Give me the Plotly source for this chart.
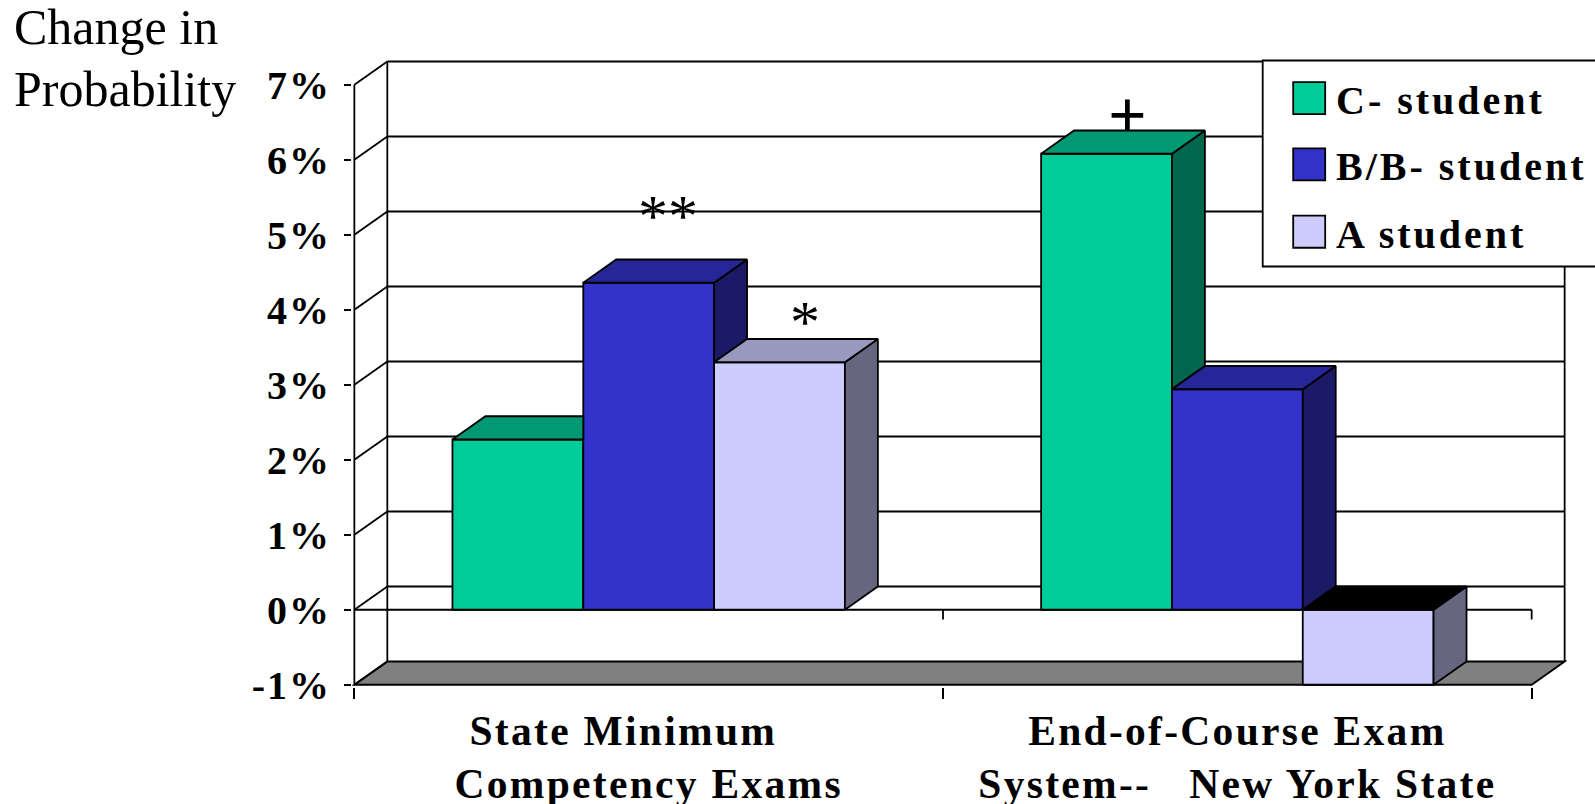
import plotly.graph_objects as go

# ---- data ----
category_labels = [
    "State Minimum    <br>Competency Exams",
    "End-of-Course Exam<br>System--   New York State",
]
category_positions = [0.5, 1.5]
c_student = [2.27, 6.08]
b_student = [4.36, 2.94]
a_student = [3.30, -1.0]
series_names = ["C- student", "B/B- student", "A student"]
y_ticks = [-1, 0, 1, 2, 3, 4, 5, 6, 7]
y_tick_labels = ["-1%", "0%", "1%", "2%", "3%", "4%", "5%", "6%", "7%"]
x_boundaries = [0, 1, 2]

# ---- style ----
FRONT = ["#00CC99", "#3333CC", "#CCCCFF"]
TOP = ["#009973", "#262699", "#9999BF"]
SIDE = ["#00664D", "#1A1A66", "#666680"]
SERIF = "Liberation Serif"
W, H = 1595, 804
LW = 1.8
DX, DY = 0.056, 0.31           # depth of the 3-D box in axis units
BAR_W = 2 / 9                  # bargap 1/3 shared by three bars
XR = [-0.004, 2.06]
YR = [-1.03, 7.33]
SX, SY = 588.7, 74.9           # pixels per axis unit
X0, Y0 = 354.6, 609.5          # pixel position of x=0, y=0
L = X0 + XR[0] * SX
R = W - (X0 + XR[1] * SX)
B = H - (Y0 - YR[0] * SY)
T = Y0 - YR[1] * SY


def spaced(text, px=3):
    return f'<span style="letter-spacing:{px}px">{text}</span>'


def px(x):
    return (x - L) / (W - L - R)


def py(y):
    return 1 - (y - T) / (H - T - B)


fig = go.Figure()
series = [c_student, b_student, a_student]

for name, vals, col in zip(series_names, series, FRONT):
    fig.add_trace(go.Bar(
        x=category_positions, y=vals, name=name, showlegend=False,
        marker=dict(color=col, line=dict(color="black", width=LW)),
    ))


def face(xs, ys, color):
    fig.add_trace(go.Scatter(
        x=xs, y=ys, mode="lines", fill="toself", fillcolor=color,
        line=dict(color="black", width=LW), hoverinfo="skip", showlegend=False,
    ))


for g, cx in enumerate(category_positions):
    for s in range(3):
        v = series[s][g]
        left = cx + (s - 1.5) * BAR_W
        right = left + BAR_W
        hi, lo = max(v, 0), min(v, 0)
        next_hi = max(series[s + 1][g], 0) if s < 2 else None
        top_col = "#000000" if v < 0 else TOP[s]
        if next_hi is not None and next_hi >= hi:
            # the next, taller bar hides the side and part of the top
            face([left, right, right, left + DX, left],
                 [hi, hi, hi + DY, hi + DY, hi], top_col)
        else:
            low = lo if next_hi is None else max(lo, next_hi)
            face([right, right, right + DX, right + DX, right],
                 [low, hi, hi + DY, low + DY, low], SIDE[s])
            face([left, right, right + DX, left + DX, left],
                 [hi, hi, hi + DY, hi + DY, hi], top_col)

# ---- 3-D walls, all computed from the axis values ----
line = dict(color="black", width=LW)
x_end = x_boundaries[-1]
shapes = [dict(type="path", layer="below", xref="x", yref="y",
               path=f"M0,-1 L{x_end},-1 L{x_end + DX},{-1 + DY} L{DX},{-1 + DY} Z",
               fillcolor="#808080", line=line)]
for k in y_ticks:
    shapes.append(dict(type="line", layer="below", xref="x", yref="y",
                       x0=0, y0=k, x1=DX, y1=k + DY, line=line))
    if k > -1:
        shapes.append(dict(type="line", layer="below", xref="x", yref="y",
                           x0=DX, y0=k + DY, x1=x_end + DX, y1=k + DY, line=line))
for xa, ya, xb, yb in [
    (0, -1, 0, 7),
    (DX, -1 + DY, DX, 7 + DY),
    (x_end + DX, -1 + DY, x_end + DX, 7 + DY),
    (0, 0, x_end, 0),
    (1, 0, 1, -0.13),
    (2, 0, 2, -0.13),
]:
    shapes.append(dict(type="line", layer="below", xref="x", yref="y",
                       x0=xa, y0=ya, x1=xb, y1=yb, line=line))

# ---- legend box, open at the right edge as in the source ----
shapes.append(dict(type="rect", layer="above", xref="paper", yref="paper",
                   x0=px(1263), x1=px(1640), y0=py(266.7), y1=py(61),
                   fillcolor="white", line=dict(color="black", width=LW)))
ann = []
for name, col, y0 in zip(series_names, FRONT, [82.6, 148.7, 216]):
    shapes.append(dict(type="rect", layer="above", xref="paper", yref="paper",
                       x0=px(1293.5), x1=px(1325.5), y0=py(y0 + 32), y1=py(y0),
                       fillcolor=col, line=dict(color="black", width=LW)))
    ann.append(dict(text=spaced(f"<b>{name}</b>"), xref="paper", yref="paper",
                    x=px(1334), y=py(y0 + 18.5), xanchor="left", yanchor="middle",
                    showarrow=False, font=dict(family=SERIF, size=40, color="black")))

# ---- free text ----
for text, y in [("Change in", 28), ("Probability", 89)]:
    ann.append(dict(text=text, xref="paper", yref="paper", x=px(12), y=py(y),
                    xanchor="left", yanchor="middle", showarrow=False,
                    font=dict(family=SERIF, size=50, color="black")))
for text, x, y, size, bold in [("**", 0.532, 5.245, 60, False),
                               ("*", 0.765, 3.84, 60, False),
                               ("+", 1.313, 6.595, 68, True)]:
    ann.append(dict(text=f"<b>{text}</b>" if bold else text, xref="x", yref="y",
                    x=x, y=y, showarrow=False,
                    font=dict(family=SERIF, size=size, color="black")))

fig.update_layout(
    width=W, height=H, autosize=False,
    margin=dict(l=L, r=R, t=T, b=B, pad=0),
    paper_bgcolor="white", plot_bgcolor="white",
    barmode="group", bargap=1 / 3, bargroupgap=0,
    showlegend=False, shapes=shapes, annotations=ann,
    xaxis=dict(range=XR, tickmode="array", tickvals=category_positions,
               ticktext=[spaced(f"<b>{t}</b>".replace("<br>", "</b><br><b>"), 2.3) for t in category_labels],
               ticks="", showgrid=False, zeroline=False, showline=False, automargin=False,
               ticklabelstandoff=15,
               minor=dict(tickmode="array", tickvals=x_boundaries, ticks="outside",
                          ticklen=11, tickwidth=LW, tickcolor="black", showgrid=False),
               tickfont=dict(family=SERIF, size=41.5, color="black")),
    yaxis=dict(range=YR, tickmode="array", tickvals=y_ticks,
               ticktext=[spaced(f"<b>{t}</b>", 2) for t in y_tick_labels],
               ticks="outside", ticklen=7, tickwidth=LW, tickcolor="black",
               showgrid=False, zeroline=False, showline=False, automargin=False,
               ticklabelstandoff=5,
               tickfont=dict(family=SERIF, size=40, color="black")),
)
fig.write_html(
    "out.html",
    config={"displayModeBar": False},
    post_script="document.body.style.margin='0';document.documentElement.style.overflow='hidden';",
)
